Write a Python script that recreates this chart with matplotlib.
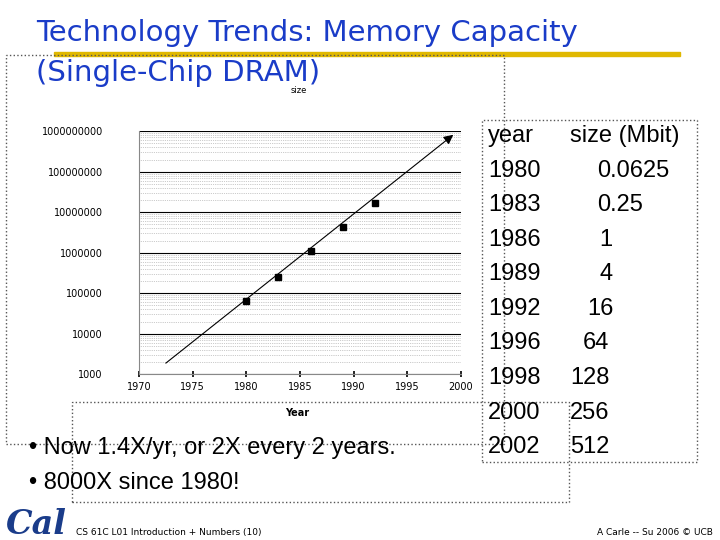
import matplotlib
matplotlib.use("Agg")
import matplotlib.pyplot as plt
from matplotlib.patches import Rectangle
from matplotlib.ticker import FixedLocator, NullFormatter

point_years = [1980, 1983, 1986, 1989, 1992]
point_sizes = [64000, 256000, 1100000, 4200000, 17000000]
trend_years = [1972.3, 1999.5]
trend_sizes = [1700, 900000000]
x_ticks = [1970, 1975, 1980, 1985, 1990, 1995, 2000]
y_ticks = [1e3, 1e4, 1e5, 1e6, 1e7, 1e8, 1e9]
y_tick_labels = ["1000", "10000", "100000", "1000000", "10000000", "100000000", "1000000000"]
table_years = ["1980", "1983", "1986", "1989", "1992", "1996", "1998", "2000", "2002"]
table_sizes = ["0.0625", "0.25", "1", "4", "16", "64", "128", "256", "512"]
size_x_px = [597, 597, 599, 599, 587, 583, 570, 570, 570]

fig = plt.figure(figsize=(7.2, 5.4), dpi=100)
fig.patch.set_facecolor("white")
F = "Liberation Sans"

# slide decorations
fig.text(0.05, 0.938, "Technology Trends: Memory Capacity", fontsize=21, color="#1a3cc8",
         fontfamily="DejaVu Sans", va="center")
fig.text(0.05, 0.864, "(Single-Chip DRAM)", fontsize=21, color="#1a3cc8",
         fontfamily="DejaVu Sans", va="center")
fig.add_artist(Rectangle((0.075, 0.896), 0.87, 0.008, color="#e0b800", transform=fig.transFigure))
fig.add_artist(Rectangle((0.008, 0.178), 0.692, 0.72, fill=False, ls=":", lw=1, ec="#555",
                         transform=fig.transFigure))
fig.add_artist(Rectangle((0.1, 0.07), 0.69, 0.185, fill=False, ls=":", lw=1, ec="#555",
                         transform=fig.transFigure))
fig.add_artist(Rectangle((0.67, 0.145), 0.298, 0.633, fill=False, ls=":", lw=1, ec="#555",
                         transform=fig.transFigure))
fig.text(0.415, 0.828, "size", fontsize=6, ha="center")
fig.text(0.413, 0.23, "Year", fontsize=7, ha="center", fontweight="bold")
fig.text(0.04, 0.16, "• Now 1.4X/yr, or 2X every 2 years.", fontsize=17, fontfamily=F)
fig.text(0.04, 0.095, "• 8000X since 1980!", fontsize=17, fontfamily=F)
fig.text(0.105, 0.01, "CS 61C L01 Introduction + Numbers (10)", fontsize=6.5)
fig.text(0.99, 0.01, "A Carle -- Su 2006 © UCB", fontsize=6.5, ha="right")
fig.text(0.008, 0.012, "Cal", fontsize=24, color="#1a3c8a", fontweight="bold", style="italic",
         fontfamily="DejaVu Serif")

# table
for i, (yr, sz, px) in enumerate(zip(table_years, table_sizes, size_x_px)):
    yy = 0.684 - i * 0.064
    fig.text(0.678, yy, yr, fontsize=17, fontfamily=F, va="center")
    fig.text(px / 720, yy, sz, fontsize=17, fontfamily=F, va="center")
fig.text(0.678, 0.748, "year", fontsize=17, fontfamily=F, va="center")
fig.text(0.792, 0.748, "size (Mbit)", fontsize=17, fontfamily=F, va="center")

# chart
ax = fig.add_axes([0.193, 0.307, 0.447, 0.45])
ax.set_yscale("log")
ax.set_xlim(1970, 2000)
ax.set_ylim(1e3, 1e9)
ax.yaxis.set_major_locator(FixedLocator(y_ticks))
ax.set_yticklabels(y_tick_labels, fontsize=7)
ax.set_xticks(x_ticks)
ax.set_xticklabels([str(x) for x in x_ticks], fontsize=7)
ax.yaxis.set_minor_formatter(NullFormatter())
ax.grid(True, which="major", axis="y", color="black", lw=0.8)
ax.grid(True, which="minor", axis="y", color="#999", lw=0.5, ls=":")
for s in ["top", "right"]:
    ax.spines[s].set_visible(False)
ax.spines["left"].set_color("#888")
ax.spines["bottom"].set_color("#888")
ax.tick_params(axis="x", length=4, width=1.2, direction="inout")
ax.tick_params(axis="y", length=0, pad=26)
ax.tick_params(which="minor", length=0)
ax.annotate("", xy=(trend_years[1], trend_sizes[1]), xytext=(trend_years[0], trend_sizes[0]),
            arrowprops=dict(arrowstyle="-|>", color="black", lw=0.8, mutation_scale=14))
ax.plot(point_years, point_sizes, "s", color="black", ms=4)

fig.savefig("out.png", dpi=100)
